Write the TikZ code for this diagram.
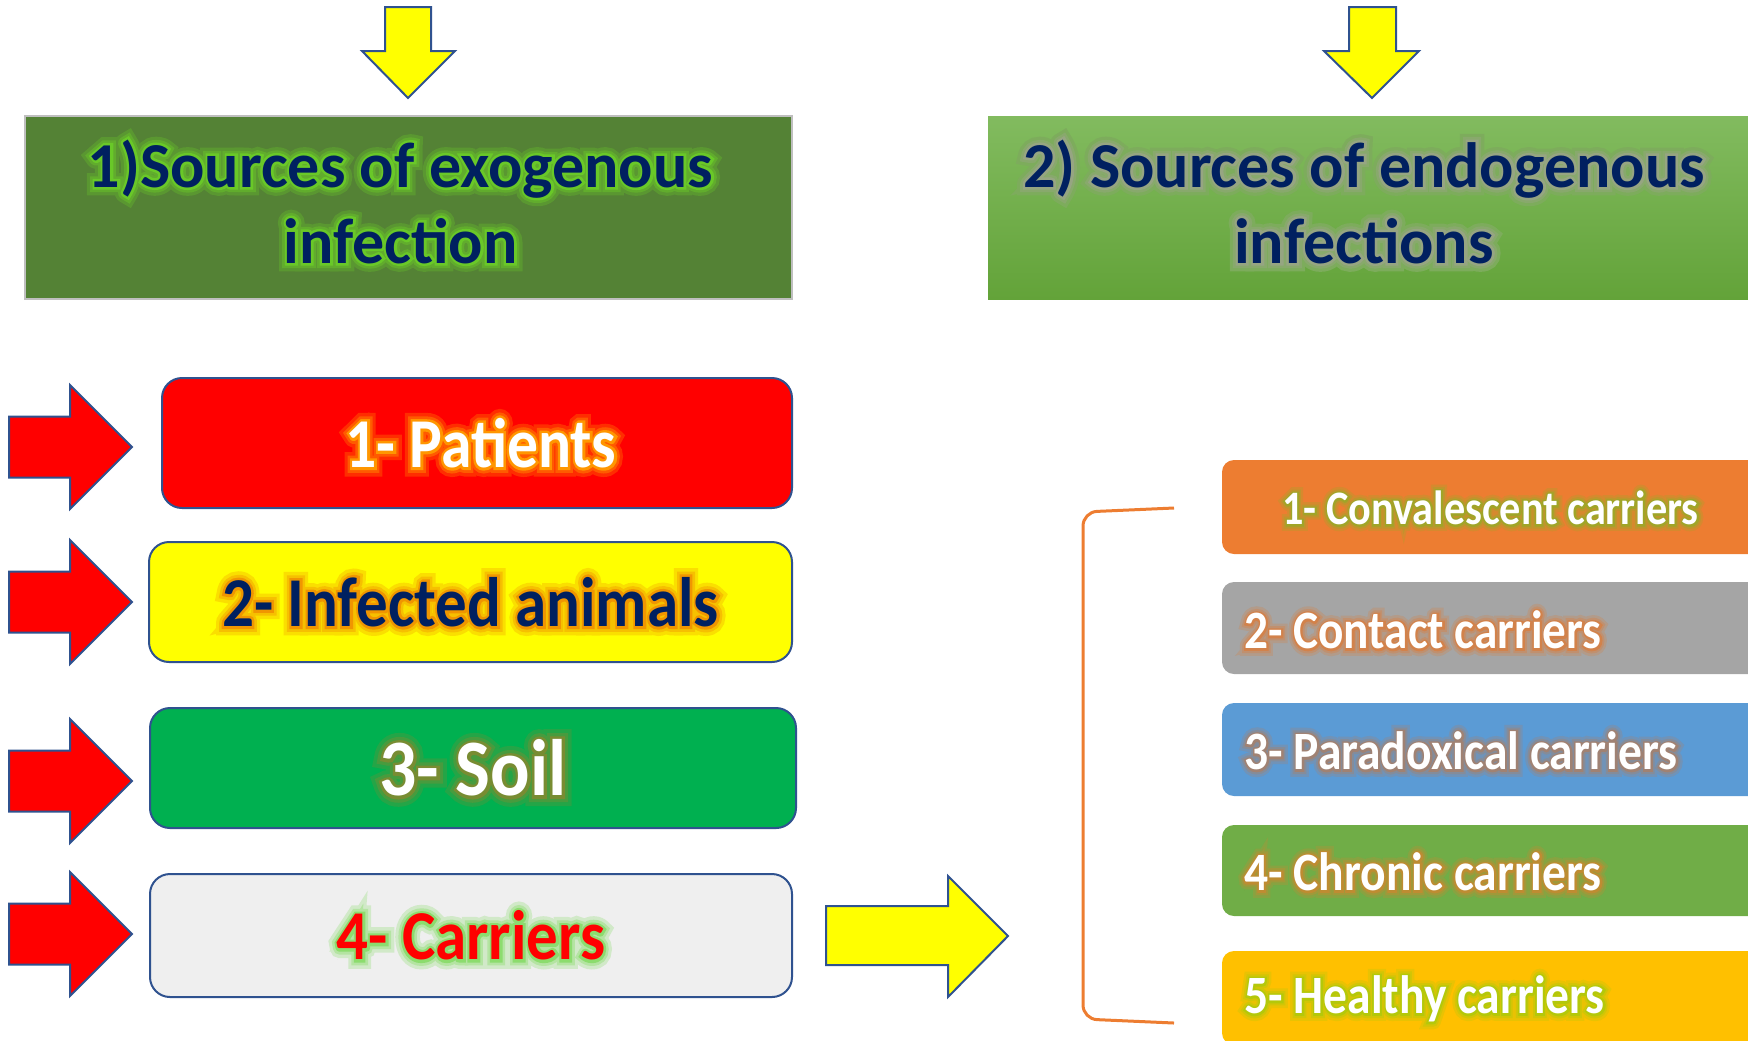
\documentclass[tikz,border=0pt]{standalone}
\usepackage{fontspec}
\setmainfont{Carlito}
% stroked copies of the bold face, used for the soft halo behind labels
\newfontfamily\haloOuter[FakeBold=26]{Carlito Bold}
\newfontfamily\haloMid[FakeBold=16]{Carlito Bold}
\newfontfamily\haloInner[FakeBold=8]{Carlito Bold}
\definecolor{navy}{RGB}{0,32,96}
\definecolor{headL}{RGB}{84,130,53}
\definecolor{headRtop}{RGB}{130,187,95}
\definecolor{headRmid}{RGB}{114,175,75}
\definecolor{headRbot}{RGB}{99,163,57}
\definecolor{edgeblue}{RGB}{47,82,143}
\definecolor{soilgreen}{RGB}{0,176,80}
\definecolor{palegray}{RGB}{239,239,239}
\definecolor{accorange}{RGB}{237,125,49}
\definecolor{accgray}{RGB}{165,165,165}
\definecolor{accblue}{RGB}{91,155,213}
\definecolor{accgreen}{RGB}{112,173,71}
\definecolor{accgold}{RGB}{255,192,0}
\definecolor{brightred}{RGB}{255,0,0}
\definecolor{brightyellow}{RGB}{255,255,0}
% halo colours
\definecolor{gExo}{RGB}{105,200,40}
\definecolor{gEndo}{RGB}{150,165,130}
\definecolor{gPat}{RGB}{255,150,0}
\definecolor{gAni}{RGB}{240,150,0}
\definecolor{gSoil}{RGB}{120,140,50}
\definecolor{gCar}{RGB}{140,220,110}
\definecolor{gConv}{RGB}{160,165,40}
\definecolor{gCont}{RGB}{210,130,75}
\definecolor{gPara}{RGB}{160,130,115}
\definecolor{gChro}{RGB}{190,140,50}
\definecolor{gHeal}{RGB}{180,200,10}

% one line of text over a soft halo: background colour, halo colour, text colour, text
\newcommand\glowline[4]{%
  \rlap{\haloOuter\mdseries\color{#2!30!#1}#4}%
  \rlap{\haloMid\mdseries\color{#2!60!#1}#4}%
  \rlap{\haloInner\mdseries\color{#2}#4}%
  {\color{#3}#4}}

\newcommand\hfont{\fontsize{32pt}{38pt}\selectfont\bfseries}
\newcommand\bfont{\fontsize{35pt}{40pt}\selectfont\bfseries}
\newcommand\cfont{\fontsize{27pt}{30pt}\selectfont\bfseries}

\begin{document}
\begin{tikzpicture}[x=0.5pt,y=-0.5pt,
  header/.style={draw=none,inner sep=0,minimum height=91.5pt},
  srcbox/.style={draw=edgeblue,line width=1pt,rounded corners=10pt,inner sep=0},
  carrierbox/.style={draw=none,rounded corners=6pt,inner sep=0,minimum width=284pt},
  blockarrow/.style={draw=edgeblue,line width=1pt,line join=miter},
  label/.style={inner sep=0,align=center}]
\useasboundingbox (0,0) rectangle (1748,1040);
\clip (0,0) rectangle (1748,1040);

% down arrows above the two headings
\path[blockarrow,fill=brightyellow] (385,7) -- (431,7) -- (431,51) -- (455,51) -- (408,98) -- (362,51) -- (385,51) -- cycle;
\path[blockarrow,fill=brightyellow] (1349,7) -- (1396,7) -- (1396,51) -- (1419,51) -- (1372,98) -- (1324,51) -- (1349,51) -- cycle;

% headings
\node[header,fill=headL,draw=black!25,line width=0.75pt,minimum width=383.5pt] (hexo) at (408.5,207.5) {};
\node[header,top color=headRtop,bottom color=headRbot,minimum width=386pt] (hendo) at (1374,207.5) {};
\node[label,font=\hfont] (texo) at ([xshift=-4pt,yshift=3pt]hexo.center) {%
  \glowline{headL}{gExo}{navy}{1)Sources of exogenous}\\
  \glowline{headL}{gExo}{navy}{infection}};
\node[label,font=\hfont] (tendo) at ([xshift=-5pt,yshift=3pt]hendo.center) {%
  \glowline{headRmid}{gEndo}{navy}{2) Sources of endogenous}\\
  \glowline{headRmid}{gEndo}{navy}{infections}};

% sources of exogenous infection
\node[srcbox,fill=brightred,minimum width=315pt,minimum height=65pt] (b1) at (477,443) {};
\node[srcbox,fill=brightyellow,minimum width=321.5pt,minimum height=60pt] (b2) at (470.5,602) {};
\node[srcbox,fill=soilgreen,minimum width=323pt,minimum height=60pt] (b3) at (473,768) {};
\node[srcbox,fill=palegray,minimum width=321pt,minimum height=61.5pt] (b4) at (471,935.5) {};

\node[label,font=\bfont] (t1) at ([xshift=2pt]b1.center) {\scalebox{0.88}[1]{\glowline{brightred}{gPat}{white}{1- Patients}}};
\node[label,font=\bfont] (t2) at (b2.center) {\scalebox{0.9}[1]{\glowline{brightyellow}{gAni}{navy}{2- Infected animals}}};
\node[label,font=\fontsize{40pt}{44pt}\selectfont\bfseries] (t3) at (b3.center) {\scalebox{0.92}[1]{\glowline{soilgreen}{gSoil}{white}{3- Soil}}};
\node[label,font=\bfont] (t4) at (b4.center) {\scalebox{0.9}[1]{\glowline{palegray}{gCar}{brightred}{4- Carriers}}};

% red arrows pointing at each source
\foreach \cy in {447,602,781,934}{
  \path[blockarrow,fill=brightred] (9,{\cy-30.5}) -- (70,{\cy-30.5}) -- (70,{\cy-62}) -- (132,\cy)
    -- (70,{\cy+62}) -- (70,{\cy+30.5}) -- (9,{\cy+30.5}) -- cycle;
}

% arrow from carriers to the carrier types
\path[blockarrow,fill=brightyellow] (826,906) -- (948,906) -- (948,876) -- (1008,936) -- (948,997) -- (948,965) -- (826,965) -- cycle;

% bracket grouping the carrier types
\coordinate (brtop) at (1174,508);
\coordinate (brbot) at (1174,1023);
\draw[accorange,line width=1.5pt,rounded corners=7pt] (brtop) -- (1083,512) -- (1083,1019) -- (brbot);

% carrier types
\node[carrierbox,fill=accorange,minimum height=47pt] (c1) at (1506,507) {};
\node[carrierbox,fill=accgray,minimum height=46pt] (c2) at (1506,628) {};
\node[carrierbox,fill=accblue,minimum height=46.5pt] (c3) at (1506,749.5) {};
\node[carrierbox,fill=accgreen,minimum height=45.5pt] (c4) at (1506,870.5) {};
\node[carrierbox,fill=accgold,minimum height=47pt] (c5) at (1506,998) {};

\node[label,anchor=west,font=\fontsize{24pt}{28pt}\selectfont\bfseries] (k1) at (1282,508) {\scalebox{0.88}[1]{\glowline{accorange}{gConv}{white}{1- Convalescent carriers}}};
\node[label,anchor=west,font=\cfont] (k2) at (1244,630) {\scalebox{0.875}[1]{\glowline{accgray}{gCont}{white}{2- Contact carriers}}};
\node[label,anchor=west,font=\cfont] (k3) at (1244,751) {\scalebox{0.88}[1]{\glowline{accblue}{gPara}{white}{3- Paradoxical carriers}}};
\node[label,anchor=west,font=\cfont] (k4) at (1244,872) {\scalebox{0.88}[1]{\glowline{accgreen}{gChro}{white}{4- Chronic carriers}}};
\node[label,anchor=west,font=\cfont] (k5) at (1244,999) {\scalebox{0.88}[1]{\glowline{accgold}{gHeal}{white}{5- Healthy carriers}}};
\end{tikzpicture}
\end{document}
